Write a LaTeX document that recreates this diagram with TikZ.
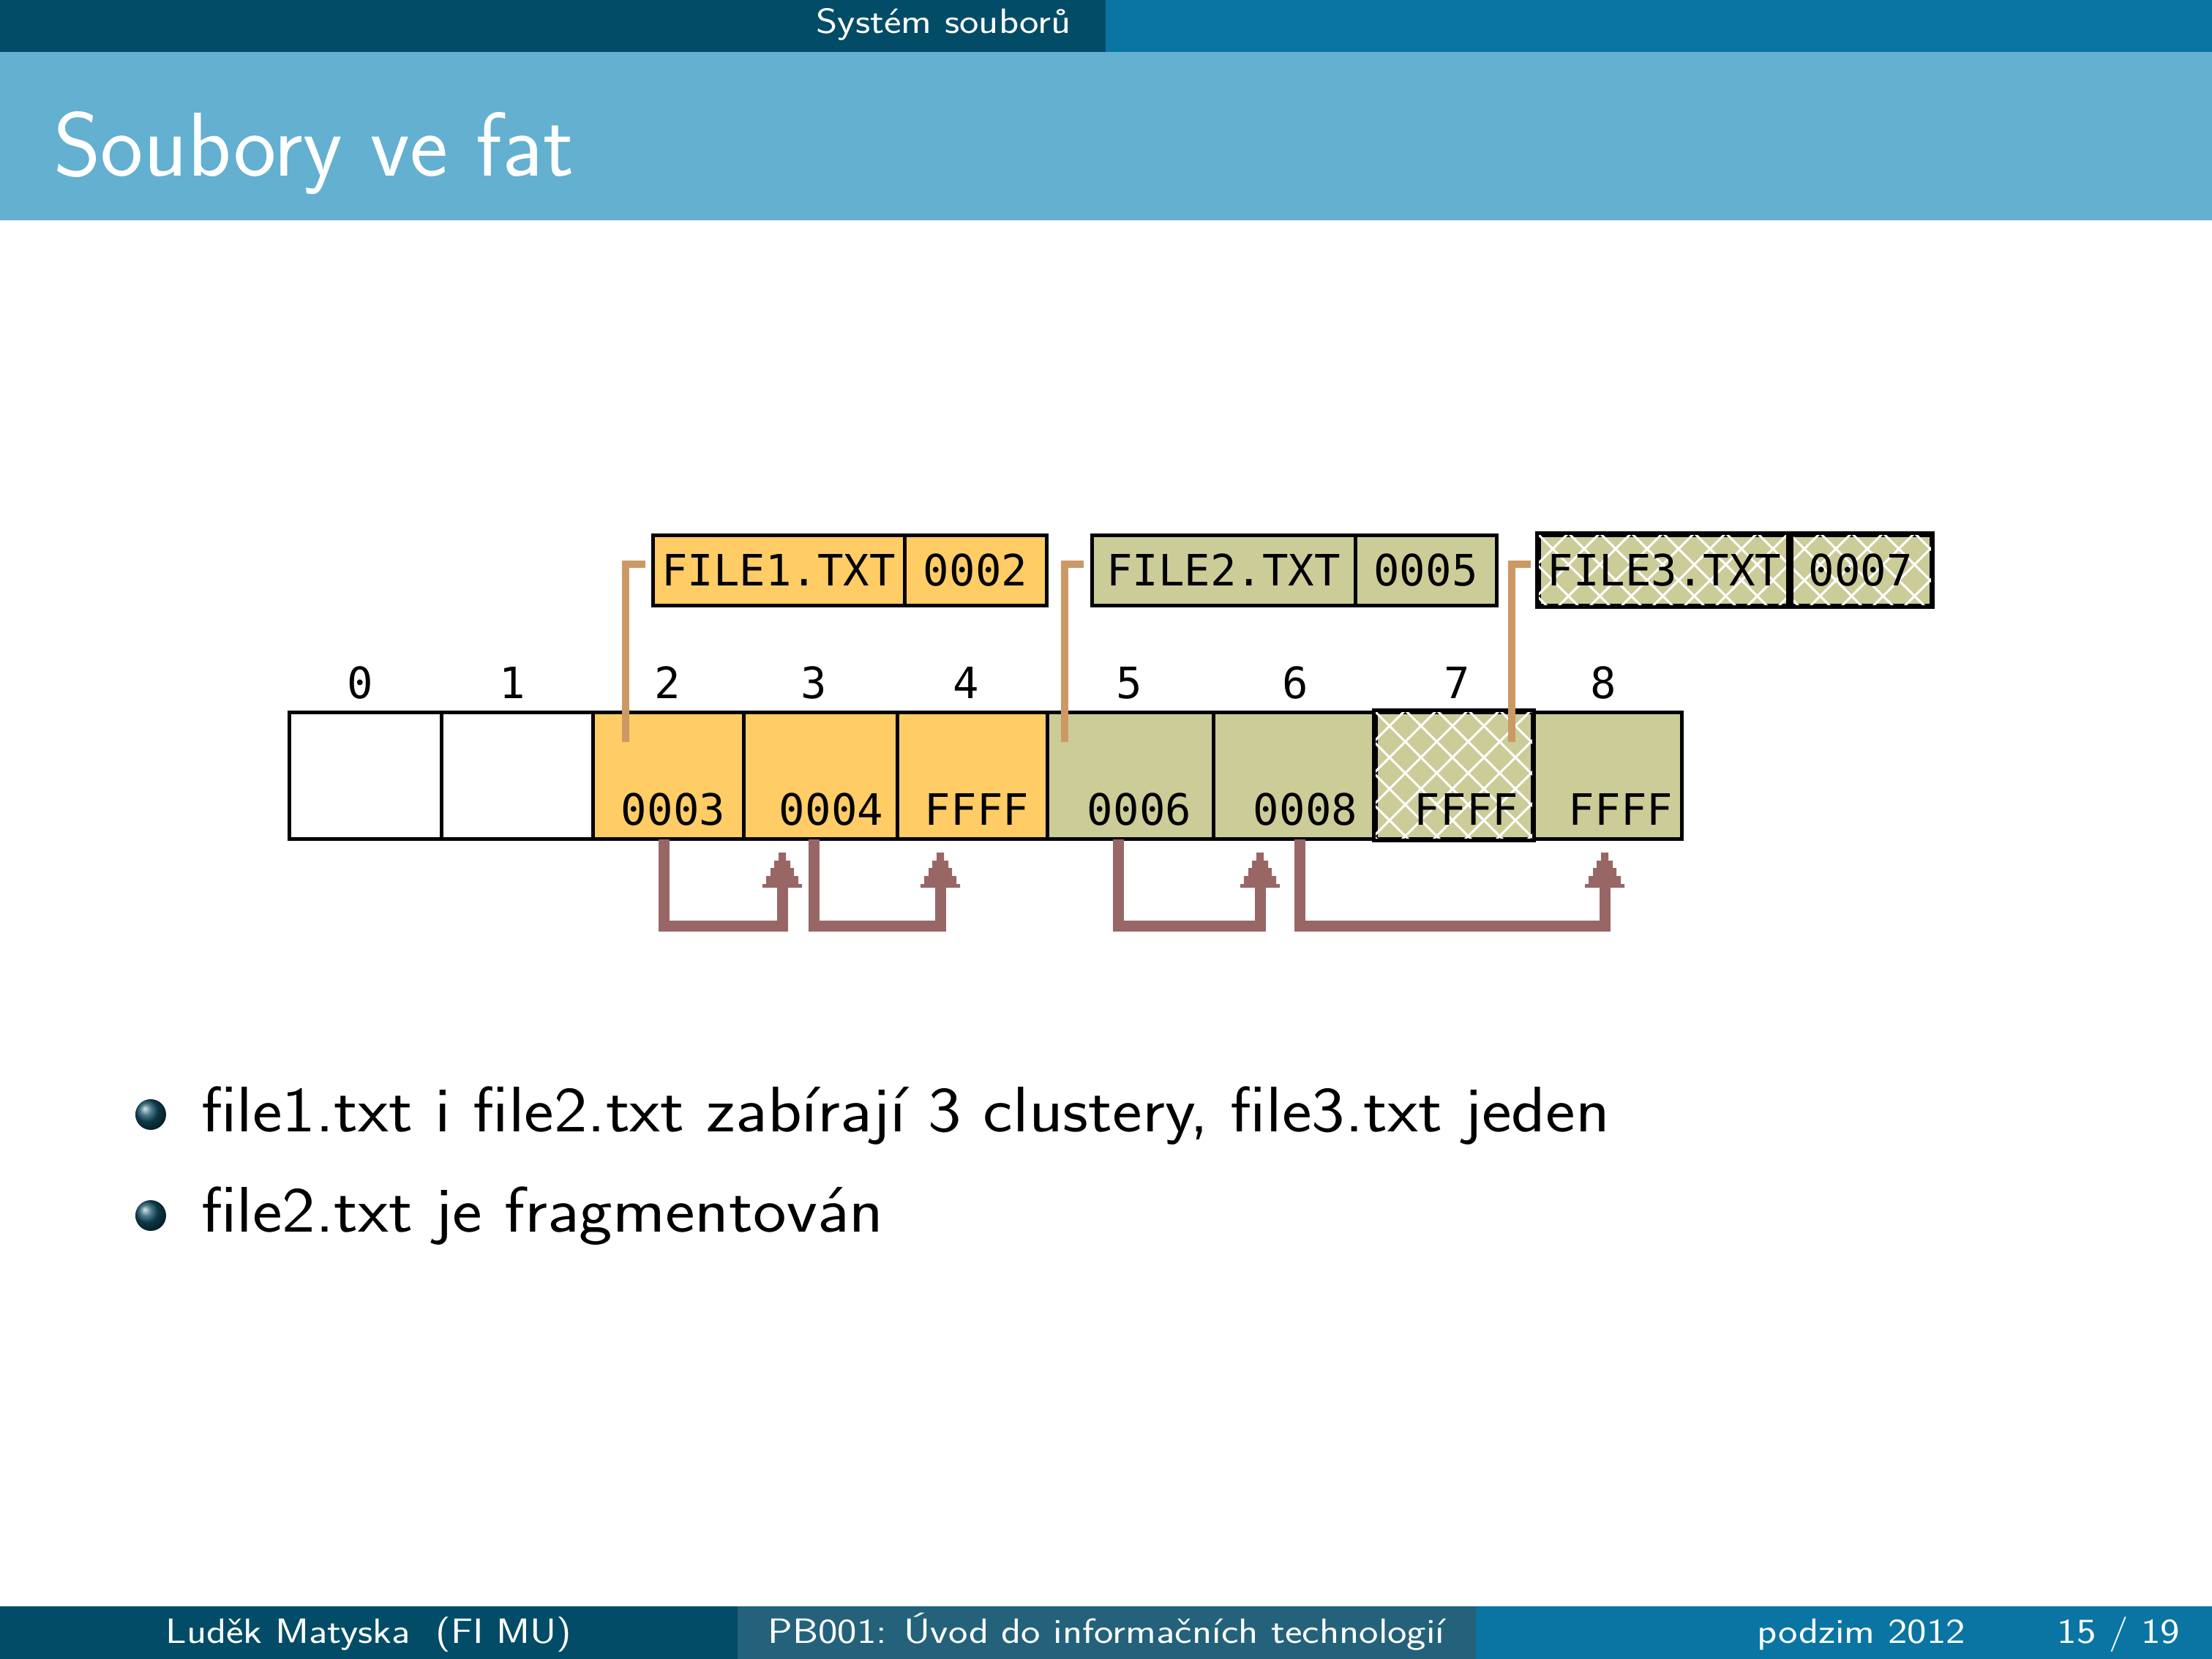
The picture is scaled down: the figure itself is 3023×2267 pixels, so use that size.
\documentclass[tikz,border=0pt]{standalone}
\usepackage{fontspec}
\newfontfamily\pixfont{DejaVu Sans Mono}
\usetikzlibrary{calc}
\definecolor{headdark}{RGB}{3,76,103}
\definecolor{headlight}{RGB}{10,117,163}
\definecolor{titleband}{RGB}{99,176,209}
\definecolor{footmid}{RGB}{35,98,122}
\definecolor{fatorange}{RGB}{255,204,102}
\definecolor{fatolive}{RGB}{204,204,153}
\definecolor{linktan}{RGB}{204,153,102}
\definecolor{chainbrown}{RGB}{153,102,102}
\definecolor{ballc}{RGB}{18,78,100}
% small sans text is set a little wider, as at small design sizes
\newcommand\tinywide[1]{\scalebox{1.17}[1]{#1}}
\newcommand\bodywide[1]{\scalebox{1.1}[1]{#1}}
\begin{document}
\begin{tikzpicture}[x=1pt,y=-1pt,
  tinytext/.style={font=\sffamily\fontsize{48}{58}\selectfont,text=white,inner sep=0},
  bodytext/.style={font=\sffamily\fontsize{88}{106}\selectfont,inner sep=0,anchor=base west},
  pix/.style={font=\pixfont\fontsize{59}{70}\selectfont,inner sep=0},
  cell/.style={draw=black,line width=5,inner sep=0,minimum height=173},
  entry/.style={draw=black,line width=5,inner sep=0,minimum height=96,font=\pixfont\fontsize{59}{70}\selectfont},
  link/.style={draw=linktan,line width=10},
  chain/.style={draw=chainbrown,line width=15},
  hatch/.style={draw=white,line width=3},
  stephead/.pic={\fill[chainbrown] (-27,0) -- (27,0) -- (27,-5) -- (22,-5) -- (22,-16) -- (16,-16) -- (16,-27)
      -- (11,-27) -- (11,-37) -- (5,-37) -- (5,-48) -- (-5,-48) -- (-5,-37) -- (-11,-37) -- (-11,-27)
      -- (-16,-27) -- (-16,-16) -- (-22,-16) -- (-22,-5) -- (-27,-5) -- cycle;}]
\useasboundingbox (0,0) rectangle (3023,2267);
\fill[white] (0,0) rectangle (3023,2267);

% slide header and title band
\fill[headdark] (0,0) rectangle (1511,71);
\fill[headlight] (1511,0) rectangle (3023,71);
\fill[titleband] (0,71) rectangle (3023,301);
\node[tinytext,anchor=base east] (sect) at (1464,46) {\tinywide{Systém souborů}};
\node[font=\sffamily\fontsize{124}{148}\selectfont,text=white,inner sep=0,anchor=base west] (title) at (73,240) {Soubory ve fat};

% footer
\fill[headdark] (0,2195) rectangle (1008,2267);
\fill[footmid] (1008,2195) rectangle (2017,2267);
\fill[headlight] (2017,2195) rectangle (3023,2267);
\node[tinytext,anchor=base] (author) at (504,2245) {\tinywide{Luděk Matyska~~(FI MU)}};
\node[tinytext,anchor=base] (course) at (1512,2245) {\tinywide{PB001: Úvod do informačních technologií}};
\node[tinytext,anchor=base east] (date) at (2686,2245) {\tinywide{podzim 2012}};
\node[tinytext,anchor=base east] (page) at (2979,2245) {\tinywide{15 / 19}};

% cluster row of the FAT
\foreach \n/\l/\r/\c in {0/395/603/white,1/603/810/white,2/810/1016/fatorange,3/1016/1226/fatorange,
    4/1226/1431/fatorange,5/1431/1658/fatolive,6/1658/1880/fatolive,7/1880/2094/fatolive,8/2094/2298/fatolive}
  \node[cell,fill=\c,minimum width={\r-\l}] (c\n) at ({(\l+\r)/2},1059.5) {};
\begin{scope}
  \clip (c7.south west) rectangle (c7.north east);
  \foreach \k in {-5,...,10} {
    \draw[hatch] ($(c7.north west)+(\k*43,0)$) -- ++(300,300);
    \draw[hatch] ($(c7.north west)+(\k*43,0)$) -- ++(-300,300);
  }
\end{scope}
\draw[black,line width=5] (c7.south west) rectangle (c7.north east);

% cluster numbers
\foreach \n/\x in {0/492,1/700,2/912,3/1112,4/1320,5/1543,6/1770,7/1991,8/2191}
  \node[pix,anchor=base] (i\n) at (\x,954) {\n};

% FAT entries
\foreach \n/\x/\t in {2/920/0003,3/1136/0004,4/1335/FFFF,5/1557/0006,6/1784/0008,7/2004/FFFF,8/2215/FFFF}
  \node[pix,anchor=base] (v\n) at (\x,1127) {\t};

% directory entries
\node[entry,fill=fatorange,minimum width=344] (d1n) at (1064,779) {FILE1.TXT};
\node[entry,fill=fatorange,minimum width=194] (d1c) at (1333,779) {0002};
\node[entry,fill=fatolive,minimum width=360] (d2n) at (1672,779) {FILE2.TXT};
\node[entry,fill=fatolive,minimum width=193] (d2c) at (1948.5,779) {0005};
\node[entry,fill=fatolive,minimum width=343] (d3n) at (2274.5,779) {};
\node[entry,fill=fatolive,minimum width=193] (d3c) at (2542.5,779) {};
\begin{scope}
  \clip (d3n.south west) rectangle (d3c.north east);
  \foreach \k in {-3,...,15} {
    \draw[hatch] ($(d3n.north west)+(\k*43,0)$) -- ++(200,200);
    \draw[hatch] ($(d3n.north west)+(\k*43,0)$) -- ++(-200,200);
  }
\end{scope}
\draw[black,line width=5] (d3n.south west) rectangle (d3n.north east);
\draw[black,line width=5] (d3c.south west) rectangle (d3c.north east);
\node[pix] (d3t) at (d3n) {FILE3.TXT};
\node[pix] (d3v) at (d3c) {0007};

% first clusters of the files
\coordinate (s1) at (855,1014);   \coordinate (e1) at (882,771);
\coordinate (s2) at (1455,1014);  \coordinate (e2) at (1481,771);
\coordinate (s3) at (2066,1014);  \coordinate (e3) at (2092,771);
\draw[link] (s1) |- (e1);
\draw[link] (s2) |- (e2);
\draw[link] (s3) |- (e3);

% chains of clusters
\foreach \a/\b in {907/1069,1112/1285,1528/1722,1776/2193} {
  \coordinate (from\a) at (\a,1147);
  \coordinate (to\a) at (\b,1213);
  \draw[chain] (from\a) -- (\a,1265) -| (to\a);
  \pic at (to\a) {stephead};
}

% bullet list
\shade[ball color=ballc] (206,1523) circle (21);
\shade[ball color=ballc] (206,1661) circle (21);
\node[bodytext] (b1) at (275,1546) {\bodywide{file1.txt i file2.txt zabírají 3 clustery, file3.txt jeden}};
\node[bodytext] (b2) at (275,1683) {\bodywide{file2.txt je fragmentován}};
\end{tikzpicture}
\end{document}
